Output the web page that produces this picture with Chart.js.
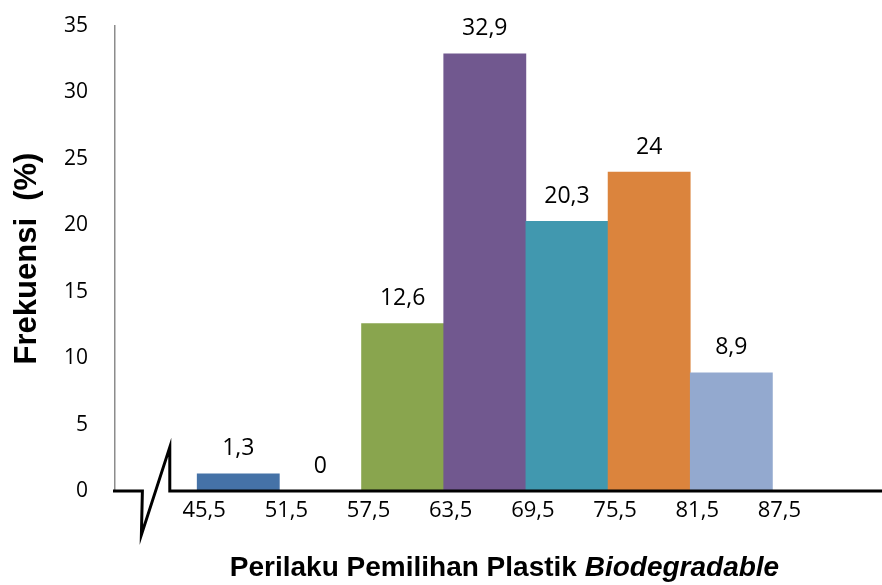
<!DOCTYPE html>
<html>
<head>
<meta charset="utf-8">
<script src="https://cdn.jsdelivr.net/npm/chart.js@4.4.0/dist/chart.umd.min.js"></script>
<style>
  body { margin: 0; background: #fff; }
  #wrap { width: 882px; height: 585px; }
</style>
</head>
<body>
<div id="wrap"><canvas id="histChart"></canvas></div>
<script>
// class midpoints, frequencies (%) and class boundaries
var midpoints = [48.5, 54.5, 60.5, 66.5, 72.5, 78.5, 84.5];
var frekuensi = [1.3, 0, 12.6, 32.9, 20.3, 24, 8.9];
var batasKelas = [45.5, 51.5, 57.5, 63.5, 69.5, 75.5, 81.5, 87.5];
var yTicks = [0, 5, 10, 15, 20, 25, 30, 35];
var barColors = ['#4572A7', '#AA4643', '#89A54E', '#71588F', '#4198AF', '#DB843D', '#93A9CF'];
var yTitle = 'Frekuensi  (%)';
var xTitleParts = ['Perilaku Pemilihan Plastik ', 'Biodegradable'];

function koma(v) { return String(v).replace('.', ','); }

// value labels above the bars
var labelPlugin = {
  id: 'barLabels',
  afterDatasetsDraw: function(chart) {
    var ctx = chart.ctx;
    var meta = chart.getDatasetMeta(0);
    ctx.save();
    ctx.font = '23px "Open Sans"';
    ctx.fillStyle = '#000';
    ctx.textAlign = 'center';
    ctx.textBaseline = 'middle';
    meta.data.forEach(function(bar, i) {
      ctx.fillText(koma(frekuensi[i]), bar.x, bar.y - 25);
    });
    ctx.restore();
  }
};

// black x axis with the break mark, and the mixed-style x title
var axisPlugin = {
  id: 'axisBreak',
  afterDatasetsDraw: function(chart) {
    var ctx = chart.ctx, xs = chart.scales.x, ys = chart.scales.y;
    var y0 = ys.getPixelForValue(0);
    var h = y0 - ys.getPixelForValue(3.3);
    var b1 = xs.getPixelForValue(41.5), b2 = xs.getPixelForValue(43.5);
    ctx.save();
    ctx.strokeStyle = '#000';
    ctx.lineWidth = 3;
    ctx.beginPath();
    ctx.moveTo(chart.chartArea.left - 2, y0);
    ctx.lineTo(b1, y0);
    ctx.lineTo(b1 - 1, y0 + h);
    ctx.lineTo(b2, y0 - h);
    ctx.lineTo(b2, y0);
    ctx.lineTo(chart.width, y0);
    ctx.stroke();

    ctx.fillStyle = '#000';
    ctx.textBaseline = 'middle';
    ctx.textAlign = 'left';
    ctx.font = 'bold 28px "Liberation Sans", Arial, sans-serif';
    var w1 = ctx.measureText(xTitleParts[0]).width;
    ctx.font = 'italic bold 28px "Liberation Sans", Arial, sans-serif';
    var w2 = ctx.measureText(xTitleParts[1]).width;
    var cx = (chart.chartArea.left + chart.chartArea.right) / 2 + 6;
    var sx = cx - (w1 + w2) / 2;
    var ty = 568;
    ctx.font = 'bold 28px "Liberation Sans", Arial, sans-serif';
    ctx.fillText(xTitleParts[0], sx, ty);
    ctx.font = 'italic bold 28px "Liberation Sans", Arial, sans-serif';
    ctx.fillText(xTitleParts[1], sx + w1, ty);
    ctx.restore();
  }
};

var ctx = document.getElementById('histChart').getContext('2d');
new Chart(ctx, {
  type: 'bar',
  data: {
    datasets: [{
      data: midpoints.map(function(m, i) { return { x: m, y: frekuensi[i] }; }),
      backgroundColor: barColors,
      borderWidth: 0,
      barPercentage: 1,
      categoryPercentage: 1
    }]
  },
  options: {
    responsive: true,
    maintainAspectRatio: false,
    animation: false,
    layout: { padding: { top: 26, left: 0, right: 0, bottom: 0 } },
    plugins: { legend: { display: false }, tooltip: { enabled: false } },
    scales: {
      x: {
        type: 'linear',
        min: 39.5,
        max: 95.5,
        offset: false,
        grid: { display: false, drawTicks: false },
        border: { display: false },
        afterBuildTicks: function(s) { s.ticks = batasKelas.map(function(v) { return { value: v }; }); },
        afterFit: function(s) { s.height = 94; s.paddingLeft = 0; s.paddingRight = 0; },
        ticks: {
          autoSkip: false,
          maxRotation: 0,
          padding: 7,
          labelOffset: 7,
          color: '#000',
          font: { family: '"Open Sans"', size: 22 },
          callback: function(v) { return koma(v); }
        }
      },
      y: {
        min: 0,
        max: 35,
        grid: { display: false, drawTicks: false },
        border: { display: true, color: '#8c8c8c', width: 1.5 },
        afterBuildTicks: function(s) { s.ticks = yTicks.map(function(v) { return { value: v }; }); },
        afterFit: function(s) { s.width = 115; s.paddingTop = 0; s.paddingBottom = 0; },
        ticks: { padding: 27, color: '#000', font: { family: '"Open Sans"', size: 21 } },
        title: {
          display: true,
          text: yTitle,
          color: '#000',
          font: { family: '"Liberation Sans", Arial, sans-serif', size: 31, weight: 'bold' },
          padding: { top: 9, bottom: 0 }
        }
      }
    }
  },
  plugins: [labelPlugin, axisPlugin]
});
</script>
</body>
</html>
